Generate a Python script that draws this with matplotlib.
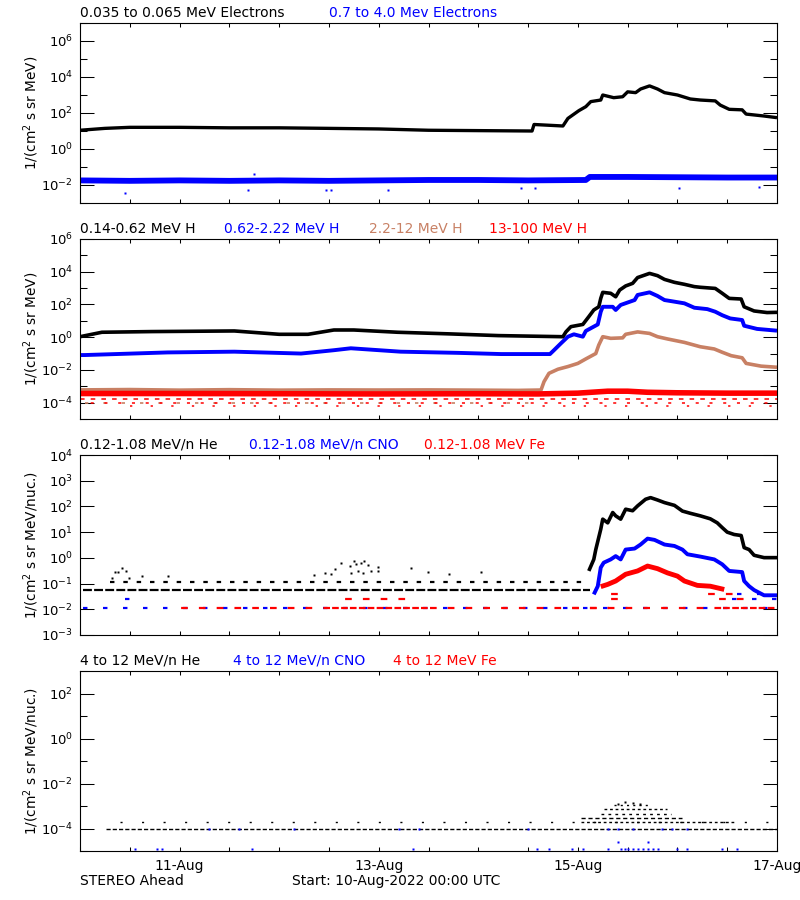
import numpy as np
import matplotlib
matplotlib.use("Agg")
import matplotlib.pyplot as plt
import matplotlib.dates as mdates
from matplotlib.ticker import LogLocator, FixedLocator, NullFormatter, FuncFormatter, LogFormatterSciNotation

# ---------------- data (days since 10-Aug-2022 00:00 UTC) ----------------
START = np.datetime64("2022-08-10T00:00")

# Panel 1: electrons
e_lo_days = [0.00, 0.25, 0.50, 1.00, 1.50, 2.00, 2.50, 3.00, 3.50, 4.00, 4.54, 4.56, 4.85, 4.90,
             5.01, 5.08, 5.13, 5.23, 5.25, 5.36, 5.45, 5.50, 5.58, 5.63, 5.72, 5.80, 5.87, 6.00,
             6.13, 6.23, 6.38, 6.43, 6.52, 6.65, 6.69, 6.87, 7.00]
e_lo = [11, 14, 16, 16, 15, 15, 14, 13, 11, 10.5, 10, 23, 19, 50,
        135, 225, 430, 525, 1000, 710, 800, 1500, 1350, 2150, 3200, 2150, 1350, 1000,
        600, 525, 470, 275, 160, 150, 87, 68, 55]
e_hi_days = [0.0, 0.5, 1.0, 1.5, 2.0, 2.5, 3.0, 3.5, 4.0, 4.5, 5.08, 5.12, 5.5, 6.0, 6.5, 7.0]
e_hi = [0.018, 0.017, 0.018, 0.017, 0.018, 0.017, 0.018, 0.019, 0.019, 0.018, 0.019, 0.028,
        0.028, 0.027, 0.026, 0.026]
e_hi_out_days = [0.45, 1.69, 1.75, 2.47, 2.52, 3.09, 4.43, 4.57, 6.02, 6.82]
e_hi_out = [0.0035, 0.0052, 0.041, 0.0052, 0.0052, 0.0052, 0.0066, 0.0066, 0.0066, 0.0081]

# Panel 2: protons
h1_days = [0.00, 0.22, 0.72, 1.55, 2.00, 2.29, 2.55, 2.75, 3.19, 3.70, 4.20, 4.85, 4.88, 4.93,
           5.05, 5.11, 5.16, 5.21, 5.23, 5.25, 5.33, 5.38, 5.42, 5.48, 5.55, 5.60, 5.72, 5.80,
           5.87, 5.97, 6.07, 6.17, 6.23, 6.38, 6.45, 6.52, 6.64, 6.67, 6.77, 6.90, 7.00]
h1 = [1.07, 2.0, 2.2, 2.4, 1.5, 1.5, 2.75, 2.75, 2.0, 1.6, 1.25, 1.07, 2.1, 4.4,
      6.0, 18, 46, 72, 235, 550, 480, 295, 760, 1350, 1950, 4400, 7900, 5750,
      3400, 2250, 1700, 1230, 1120, 955, 480, 235, 215, 72, 40, 32, 33]
h2_days = [0.00, 0.05, 0.88, 1.55, 2.22, 2.55, 2.72, 3.22, 3.80, 4.23, 4.72, 4.76, 4.83, 4.90,
           4.96, 5.05, 5.08, 5.20, 5.23, 5.25, 5.35, 5.38, 5.43, 5.57, 5.60, 5.72, 5.80, 5.87,
           5.97, 6.07, 6.17, 6.30, 6.38, 6.45, 6.53, 6.65, 6.67, 6.80, 7.00]
h2 = [0.081, 0.081, 0.117, 0.13, 0.10, 0.16, 0.21, 0.13, 0.11, 0.093, 0.093, 0.16, 0.42, 1.07,
      1.5, 1.07, 2.4, 6.0, 36, 72, 72, 46, 93, 186, 380, 550, 330, 186,
      148, 117, 63, 52, 36, 22, 14, 11.2, 5.0, 3.2, 2.5]
h3_days = [0.0, 0.5, 1.0, 1.5, 2.0, 2.5, 3.0, 3.5, 4.0, 4.4, 4.63, 4.66, 4.71, 4.80, 4.90,
           5.00, 5.08, 5.18, 5.21, 5.25, 5.33, 5.45, 5.48, 5.60, 5.72, 5.80, 5.90, 6.07, 6.23,
           6.37, 6.45, 6.54, 6.65, 6.69, 6.84, 7.00]
h3 = [6.0e-4, 6.3e-4, 5.8e-4, 6.2e-4, 5.8e-4, 6.0e-4, 5.9e-4, 6.0e-4, 5.8e-4, 5.6e-4, 5.9e-4,
      1.9e-3, 6.2e-3, 0.011, 0.016, 0.025, 0.047, 0.10, 0.33, 1.07, 0.85, 0.91, 1.5, 2.1, 1.7,
      1.07, 0.78, 0.48, 0.26, 0.19, 0.12, 0.074, 0.055, 0.025, 0.017, 0.0145]
h4_days = [0.0, 1.0, 2.0, 3.0, 4.0, 4.6, 5.0, 5.3, 5.5, 5.7, 6.0, 6.5, 7.0]
h4 = [3.6e-4, 3.6e-4, 3.5e-4, 3.4e-4, 3.5e-4, 3.4e-4, 3.8e-4, 5.0e-4, 5.0e-4, 4.3e-4, 4.0e-4,
      3.8e-4, 3.8e-4]
h4_lvl = [1.7e-4, 1.0e-4, 6.0e-5]
h4_lvl_start = [0.0, 0.0, 0.5]
h4_lvl_end = [7.0, 7.0, 7.0]
h3_lvl = [9.0e-5]
h3_lvl_start = [0.05]
h3_lvl_end = [4.6]

# Panel 3: 0.12-1.08 MeV/n heavy ions
he_ev_days = [5.11, 5.16, 5.18, 5.23, 5.25, 5.30, 5.35, 5.38, 5.43, 5.48, 5.55, 5.60, 5.68, 5.73,
              5.80, 5.87, 5.97, 6.05, 6.13, 6.23, 6.33, 6.40, 6.45, 6.50, 6.57, 6.64, 6.67, 6.72,
              6.77, 6.87, 7.00]
he_ev = [0.31, 0.87, 2.1, 13, 32, 23, 58, 43, 32, 78, 68, 105, 190, 220,
         178, 141, 110, 66, 54, 43, 33, 23, 15, 10, 8.1, 7.4, 2.5, 2.1,
         1.26, 1.02, 1.02]
he_q_days = [0.32, 0.35, 0.38, 0.42, 0.46, 0.49, 0.62, 0.88, 2.355, 2.456, 2.523, 2.556, 2.623,
             2.707, 2.723, 2.750, 2.773, 2.790, 2.823, 2.840, 2.857, 2.897, 2.924, 2.991, 2.991,
             3.325, 3.492, 3.709, 4.027]
he_q = [0.17, 0.29, 0.29, 0.42, 0.30, 0.17, 0.20, 0.20, 0.21, 0.26, 0.23, 0.36, 0.61,
        0.48, 0.26, 0.75, 0.56, 0.31, 0.65, 0.26, 0.75, 0.51, 0.31, 0.45, 0.31,
        0.39, 0.28, 0.235, 0.28]
he_lvl = [0.056, 0.115]
he_lvl_start = [0.03, 0.30]
he_lvl_end = [5.12, 5.05]

cno_ev_days = [5.16, 5.20, 5.23, 5.26, 5.33, 5.38, 5.43, 5.48, 5.57, 5.63, 5.70, 5.77, 5.87, 5.97,
               6.05, 6.10, 6.23, 6.37, 6.45, 6.52, 6.65, 6.67, 6.72, 6.77, 6.87, 7.00]
cno_ev = [0.038, 0.079, 0.42, 0.65, 0.87, 1.17, 0.87, 2.1, 2.3, 3.3, 5.6, 5.0, 3.3, 2.9,
          2.1, 1.38, 1.12, 0.87, 0.56, 0.31, 0.28, 0.126, 0.079, 0.056, 0.035, 0.035]
cno_lvl = [0.0115, 0.026, 0.026, 0.040]
cno_lvl_start = [0.03, 0.45, 6.55, 6.60]
cno_lvl_end = [7.00, 0.52, 7.00, 7.00]

fe_ev_days = [5.23, 5.30, 5.38, 5.48, 5.60, 5.70, 5.80, 5.90, 6.00, 6.07, 6.20, 6.33, 6.47]
fe_ev = [0.076, 0.093, 0.126, 0.23, 0.31, 0.48, 0.38, 0.26, 0.195, 0.126, 0.085, 0.079, 0.059]
fe_lvl = [0.0115, 0.0115, 0.0115, 0.0115, 0.026, 0.026, 0.026, 0.040, 0.040]
fe_lvl_start = [0.90, 2.42, 4.83, 6.35, 2.55, 5.22, 6.31, 5.22, 6.20]
fe_lvl_end = [7.00, 3.50, 5.31, 6.99, 3.35, 5.50, 6.68, 5.50, 6.60]

# Panel 4: 4-12 MeV/n heavy ions
he4_lvl = [1.0e-4, 2.0e-4, 2.0e-4, 2.8e-4, 4.3e-4, 7.0e-4, 1.1e-3]
he4_lvl_start = [0.26, 0.40, 5.03, 5.03, 5.23, 5.26, 5.36]
he4_lvl_end = [7.00, 7.00, 6.57, 6.05, 5.94, 5.90, 5.70]
he4_pk_days = [5.40, 5.47, 5.55, 5.62]
he4_pk = [1.2e-3, 1.55e-3, 1.3e-3, 1.2e-3]
cno4_low_days = [0.55, 0.77, 0.82, 1.73, 3.34, 4.59, 4.71, 4.94, 5.05, 5.30, 5.43, 5.47, 5.50,
                 5.55, 5.60, 5.65, 5.70, 5.75, 5.80, 6.00, 6.10, 6.45, 6.60]
cno4_low = [1.2e-5] * 23
cno4_mid_days = [1.30, 1.60, 2.15, 3.20, 3.40, 4.50, 5.30, 5.40, 5.55, 5.85, 5.95, 6.10, 5.40, 5.70]
cno4_mid = [1.0e-4] * 12 + [2.6e-5, 2.6e-5]

titles = [
    [("0.035 to 0.065 MeV Electrons", "black", 80), ("0.7 to 4.0 Mev Electrons", "#0000ff", 329)],
    [("0.14-0.62 MeV H", "black", 80), ("0.62-2.22 MeV H", "#0000ff", 224),
     ("2.2-12 MeV H", "#c88064", 369), ("13-100 MeV H", "#ff0000", 489)],
    [("0.12-1.08 MeV/n He", "black", 80), ("0.12-1.08 MeV/n CNO", "#0000ff", 249),
     ("0.12-1.08 MeV Fe", "#ff0000", 424)],
    [("4 to 12 MeV/n He", "black", 80), ("4 to 12 MeV/n CNO", "#0000ff", 233),
     ("4 to 12 MeV Fe", "#ff0000", 393)],
]
ylims = [(1e-3, 1e7), (1e-5, 1e6), (1e-3, 1e4), (1e-5, 1e3)]
ylabels = [r"1/(cm$^2$ s sr MeV)", r"1/(cm$^2$ s sr MeV)",
           r"1/(cm$^2$ s sr MeV/nuc.)", r"1/(cm$^2$ s sr MeV/nuc.)"]

BLACK, BLUE, RED, BROWN = "black", "#0000ff", "#ff0000", "#c88064"


def T(days):
    d = np.round(np.asarray(days, float) * 86400).astype(np.int64)
    return START + d.astype("timedelta64[s]")


plt.rcParams["font.family"] = ["DejaVu Sans"]
fig = plt.figure(figsize=(8, 9), dpi=100)
W, H = 800.0, 900.0
tops = [23, 239, 455, 671]
axes = []
for i, top in enumerate(tops):
    ax = fig.add_axes([80 / W, 1 - (top + 180) / H, 697 / W, 180 / H])
    ax.set_yscale("log")
    ax.set_ylim(*ylims[i])
    ax.set_xlim(T(0.0), T(7.0))
    if i == 2:
        ax.yaxis.set_major_locator(LogLocator(base=10, numticks=20))
        ax.yaxis.set_minor_locator(FixedLocator([]))
    else:
        ax.yaxis.set_major_locator(LogLocator(base=100, numticks=20))
        ax.yaxis.set_minor_locator(LogLocator(base=10, subs=(1.0,), numticks=20))
    ax.yaxis.set_major_formatter(LogFormatterSciNotation())
    ax.yaxis.set_minor_formatter(NullFormatter())
    ax.xaxis.set_major_locator(mdates.HourLocator(byhour=[0, 12]))

    def fmt(v, p, last=(i == 3)):
        d = mdates.num2date(v)
        if last and d.hour == 0 and d.day % 2 == 1:
            return d.strftime("%d-%b")
        return ""
    ax.xaxis.set_major_formatter(FuncFormatter(fmt))
    ax.tick_params(axis="x", which="both", direction="in", length=3, width=0.75,
                   top=True, bottom=True, labelsize=10, pad=6)
    ax.tick_params(axis="y", which="major", direction="in", length=10, width=0.75,
                   left=True, right=True, labelsize=9.5, pad=5)
    ax.tick_params(axis="y", which="minor", direction="in", length=5, width=0.75,
                   left=True, right=True)
    for s in ax.spines.values():
        s.set_linewidth(0.8)
    ax.set_ylabel(ylabels[i], fontsize=9.8)
    ax.yaxis.set_label_coords(-0.056, 0.5)
    for txt, col, xp in titles[i]:
        fig.text(xp / W, 1 - (top - 10) / H, txt, color=col, fontsize=10,
                 ha="left", va="center")
    axes.append(ax)

ax1, ax2, ax3, ax4 = axes

# Panel 1
ax1.plot(T(e_hi_days), e_hi, color=BLUE, lw=4.2, solid_capstyle="butt")
ax1.plot(T(e_hi_out_days), e_hi_out, ls="none", marker="s", ms=1.6, color=BLUE, mec="none")
ax1.plot(T(e_lo_days), e_lo, color=BLACK, lw=2.4, solid_capstyle="butt")

# Panel 2
ax2.hlines(h3_lvl, T(h3_lvl_start), T(h3_lvl_end), colors=BROWN, lw=1.2, linestyles=[(0, (2, 9))])
ax2.plot(T(h3_days), h3, color=BROWN, lw=2.6, solid_capstyle="butt")
ax2.hlines(h4_lvl, T(h4_lvl_start), T(h4_lvl_end), colors=RED, lw=1.1,
           linestyles=[(0, (3, 4)), (2, (2, 7)), (0, (1.5, 12))])
ax2.plot(T(h4_days), h4, color=RED, lw=4.0, solid_capstyle="butt")
ax2.plot(T(h2_days), h2, color=BLUE, lw=2.8, solid_capstyle="butt")
ax2.plot(T(h1_days), h1, color=BLACK, lw=2.6, solid_capstyle="butt")

# Panel 3
ax3.hlines(cno_lvl, T(cno_lvl_start), T(cno_lvl_end), colors=BLUE, lw=1.6,
           linestyles=[(0, (2, 7))])
ax3.hlines(fe_lvl, T(fe_lvl_start), T(fe_lvl_end), colors=RED, lw=1.6,
           linestyles=[(3, (3, 5))])
ax3.hlines(he_lvl, T(he_lvl_start), T(he_lvl_end), colors=BLACK, lw=1.6,
           linestyles=[(0, (4, 1)), (0, (2, 4))])
ax3.plot(T(he_q_days), he_q, ls="none", marker="s", ms=2.0, color=BLACK, mec="none")
ax3.plot(T(fe_ev_days), fe_ev, color=RED, lw=3.5, solid_capstyle="butt")
ax3.plot(T(cno_ev_days), cno_ev, color=BLUE, lw=2.8, solid_capstyle="butt")
ax3.plot(T(he_ev_days), he_ev, color=BLACK, lw=2.6, solid_capstyle="butt")

# Panel 4
ax4.hlines(he4_lvl, T(he4_lvl_start), T(he4_lvl_end), colors=BLACK, lw=1.0,
           linestyles=[(0, (3, 1.5)), (0, (1.5, 14)), (0, (2, 2)), (0, (3, 2)),
                       (0, (2, 3)), (0, (2, 2)), (0, (1.5, 3))])
ax4.plot(T(he4_pk_days), he4_pk, ls="none", marker="s", ms=1.8, color=BLACK, mec="none")
ax4.plot(T(cno4_low_days), cno4_low, ls="none", marker="s", ms=1.8, color=BLUE, mec="none")
ax4.plot(T(cno4_mid_days), cno4_mid, ls="none", marker="s", ms=1.8, color=BLUE, mec="none")

fig.text(80 / W, 1 - 881 / H, "STEREO Ahead", fontsize=10, ha="left", va="center")
fig.text(292 / W, 1 - 881 / H, "Start: 10-Aug-2022 00:00 UTC", fontsize=10, ha="left", va="center")

fig.savefig("out.png", dpi=100)
